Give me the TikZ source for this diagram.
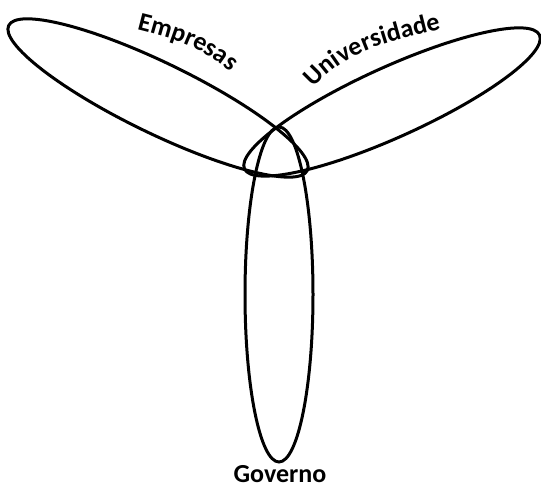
\documentclass[tikz,border=0pt]{standalone}
\usepackage{fontspec}
\setmainfont{Carlito}
\usetikzlibrary{decorations.text}
\begin{document}
\begin{tikzpicture}[x=1pt,y=1pt,
  helix/.style={draw=black, line width=3pt},
  helixlabel/.style={font=\bfseries\fontsize{26}{30}\selectfont},
  curvedlabel/.style={decorate, decoration={text along path, text align=center,
      text={|\bfseries\fontsize{26}{30}\selectfont|#1}}}]
\useasboundingbox (0,0) rectangle (541,486);

% the three spheres of the triple helix
\draw[helix] (279,191.5) ellipse [x radius=34, y radius=167.5];
\draw[helix, rotate around={-25.9:(158,388)}] (158,388) ellipse [x radius=166, y radius=35.3];
\draw[helix, rotate around={24.4:(392,384)}] (392,384) ellipse [x radius=162, y radius=35];

% curved labels above the two upper spheres
\coordinate (empA) at (131,458);
\coordinate (empB) at (235,410);
\path[curvedlabel=Empresas] (empA) to[out=-14,in=138] (empB);

\coordinate (uniA) at (314,398);
\coordinate (uniB) at (441,457);
\path[curvedlabel=Universidade] (uniA) to[out=48,in=-165] (uniB);

% label below the lower sphere
\node[helixlabel, anchor=base, inner sep=0pt] (gov) at (280,3) {Governo};
\end{tikzpicture}
\end{document}
